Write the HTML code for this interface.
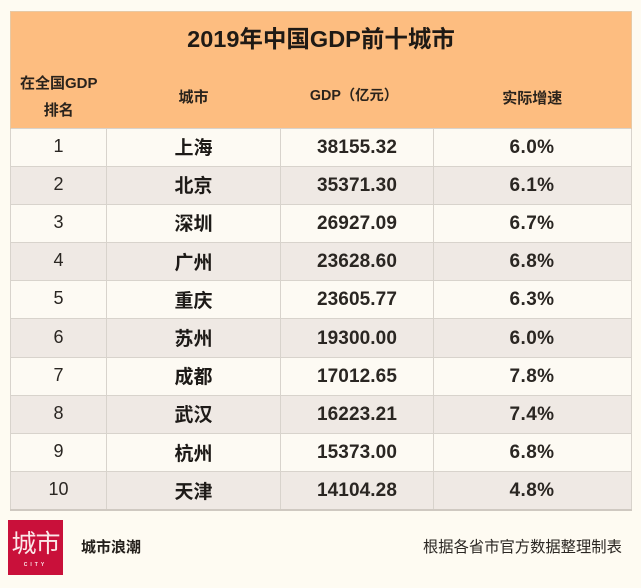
<!DOCTYPE html>
<html lang="zh">
<head>
<meta charset="utf-8">
<title>2019年中国GDP前十城市</title>
<style>
html,body{margin:0;padding:0;}
body{width:641px;height:588px;background:#fefbf2;position:relative;overflow:hidden;font-family:"Liberation Sans","Noto Sans CJK SC",sans-serif;color:#1d1a17;}
table{position:absolute;left:10px;top:11px;width:621px;height:499px;border-collapse:collapse;table-layout:fixed;}
th,td{padding:0;text-align:center;vertical-align:middle;}
.title th{height:54px;background:#fdbd80;font-size:23.5px;font-weight:700;padding-bottom:3px;box-sizing:border-box;color:#1f1a15;border:1px solid #e8c9a4;border-bottom:0;}
.head th{height:62px;background:#fdbd80;font-size:15px;font-weight:700;line-height:27px;color:#2a231c;}
.head th:first-child{border-left:1px solid #e8c9a4;}
.head th:last-child{border-right:1px solid #e8c9a4;}
.head th span{position:relative;}
tbody td{height:38.2px;box-sizing:border-box;border:1px solid #d8d3cc;font-size:18px;padding-bottom:2px;}
tbody tr:nth-child(odd) td{background:#fdfaf3;}
tbody tr:nth-child(even) td{background:#efe9e4;}
td.rank{font-weight:400;color:#2a2622;}
td.city{font-weight:700;font-size:19px;padding-bottom:1px;}
tbody td.gdp,tbody td.rate{font-weight:700;font-size:19px;letter-spacing:.1px;color:#2a2622;padding-top:1px;padding-bottom:0;}
tbody td.rate{letter-spacing:.4px;padding-right:1px;}
tbody tr:last-child td{border-bottom:2px solid #cfc9c1;}
#logo{position:absolute;left:8px;top:520px;width:55px;height:55px;background:#c9103a;color:#fbe9ea;text-align:center;}
#logo .big{position:absolute;left:0;right:0;top:9px;font-size:25px;font-weight:400;line-height:30px;letter-spacing:-1px;}
#logo .small{position:absolute;left:0;right:0;top:41px;font-size:5px;font-weight:700;line-height:8px;letter-spacing:3px;}
#brand{position:absolute;left:81px;top:537px;font-size:15px;font-weight:700;line-height:22px;color:#24201c;}
#source{position:absolute;left:423px;top:537px;font-size:15.3px;line-height:22px;color:#2b2723;white-space:nowrap;}
</style>
</head>
<body>
<table>
<colgroup><col style="width:96px"><col style="width:174px"><col style="width:153px"><col style="width:198px"></colgroup>
<thead>
<tr class="title"><th colspan="4">2019年中国GDP前十城市</th></tr>
<tr class="head">
<th>在全国GDP<br>排名</th>
<th><span style="top:1px">城市</span></th>
<th><span style="top:-1px;left:-3px;font-size:14.3px">GDP（亿元）</span></th>
<th><span style="top:2px">实际增速</span></th>
</tr>
</thead>
<tbody>
<tr><td class="rank">1</td><td class="city">上海</td><td class="gdp">38155.32</td><td class="rate">6.0%</td></tr>
<tr><td class="rank">2</td><td class="city">北京</td><td class="gdp">35371.30</td><td class="rate">6.1%</td></tr>
<tr><td class="rank">3</td><td class="city">深圳</td><td class="gdp">26927.09</td><td class="rate">6.7%</td></tr>
<tr><td class="rank">4</td><td class="city">广州</td><td class="gdp">23628.60</td><td class="rate">6.8%</td></tr>
<tr><td class="rank">5</td><td class="city">重庆</td><td class="gdp">23605.77</td><td class="rate">6.3%</td></tr>
<tr><td class="rank">6</td><td class="city">苏州</td><td class="gdp">19300.00</td><td class="rate">6.0%</td></tr>
<tr><td class="rank">7</td><td class="city">成都</td><td class="gdp">17012.65</td><td class="rate">7.8%</td></tr>
<tr><td class="rank">8</td><td class="city">武汉</td><td class="gdp">16223.21</td><td class="rate">7.4%</td></tr>
<tr><td class="rank">9</td><td class="city">杭州</td><td class="gdp">15373.00</td><td class="rate">6.8%</td></tr>
<tr><td class="rank">10</td><td class="city">天津</td><td class="gdp">14104.28</td><td class="rate">4.8%</td></tr>
</tbody>
</table>
<div id="logo"><div class="big">城市</div><div class="small">CITY</div></div>
<div id="brand">城市浪潮</div>
<div id="source">根据各省市官方数据整理制表</div>
</body>
</html>
